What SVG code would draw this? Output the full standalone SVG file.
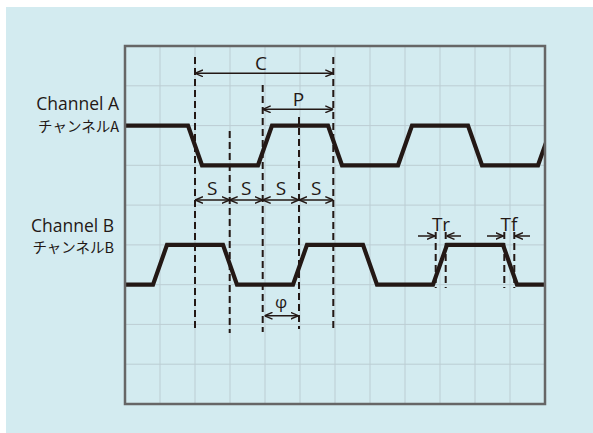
<svg xmlns="http://www.w3.org/2000/svg" width="593" height="433" viewBox="0 0 593 433">
<defs>
<style>
.grid{stroke:#bccdd3;stroke-width:1;fill:none}
.frame{stroke:#666666;stroke-width:2.5;fill:none}
.wave{stroke:#231815;stroke-width:4.2;fill:none;stroke-linejoin:miter}
.dash{stroke:#231815;stroke-width:2;stroke-dasharray:7 4;fill:none}
.dim{stroke:#231815;stroke-width:1.5;fill:none}
.lbl{font-family:"Open Sans","Noto Sans",sans-serif;fill:#231815;text-anchor:middle}
.ch{font-family:"Open Sans","Noto Sans",sans-serif;fill:#231815;text-anchor:end;font-size:17.5px}
.jp{font-family:"Noto Sans CJK JP",sans-serif;fill:#231815;text-anchor:end;font-size:14.5px}
</style>
<marker id="ah" viewBox="0 0 10 10" refX="10" refY="5" markerWidth="8" markerHeight="8" markerUnits="userSpaceOnUse" orient="auto-start-reverse">
<path d="M0,0.8 L10,5 L0,9.2" fill="none" stroke="#231815" stroke-width="1.8"/>
</marker>
<clipPath id="plot"><rect x="125" y="46" width="420" height="358"/></clipPath>
</defs>
<rect x="6" y="7" width="587" height="426" fill="#d3ebf0"/>
<g id="grid" class="grid">
<path d="M160,46V404M195,46V404M230,46V404M265,46V404M300,46V404M335,46V404M370,46V404M405,46V404M440,46V404M475,46V404M510,46V404"/>
<path d="M125,85.8H545M125,125.6H545M125,165.3H545M125,205.1H545M125,244.9H545M125,284.7H545M125,324.4H545M125,364.2H545"/>
</g>
<g id="guides" class="dash">
<path d="M195,57V331M229.7,131V333M262.7,85V332M299,117V329M333.3,57V332"/>
<path d="M435.7,232V288M445.7,232V288M504.3,232V288M514.3,232V288"/>
</g>
<g id="channel-a" clip-path="url(#plot)">
<polyline class="wave" points="120,125.6 188,125.6 202,165.3 258,165.3 272,125.6 328,125.6 342,165.3 398,165.3 412,125.6 468,125.6 482,165.3 538,165.3 552,125.6"/>
</g>
<g id="channel-b" clip-path="url(#plot)">
<polyline class="wave" points="120,284.7 153,284.7 167,244.9 223,244.9 237,284.7 293,284.7 307,244.9 363,244.9 377,284.7 433,284.7 447,244.9 503,244.9 517,284.7 550,284.7"/>
</g>
<rect class="frame" x="125" y="46" width="420" height="358"/>
<g id="connectors" class="dim">
<line x1="195" y1="73.3" x2="333.3" y2="73.3" marker-start="url(#ah)" marker-end="url(#ah)"/>
<line x1="262.7" y1="109.3" x2="333.3" y2="109.3" marker-start="url(#ah)" marker-end="url(#ah)"/>
<line x1="195" y1="200" x2="229.7" y2="200" marker-start="url(#ah)" marker-end="url(#ah)"/>
<line x1="229.7" y1="200" x2="262.7" y2="200" marker-start="url(#ah)" marker-end="url(#ah)"/>
<line x1="262.7" y1="200" x2="299" y2="200" marker-start="url(#ah)" marker-end="url(#ah)"/>
<line x1="299" y1="200" x2="333.3" y2="200" marker-start="url(#ah)" marker-end="url(#ah)"/>
<line x1="264.5" y1="315.7" x2="298.5" y2="315.7" marker-start="url(#ah)" marker-end="url(#ah)"/>
<line x1="418" y1="236" x2="435" y2="236" marker-end="url(#ah)"/>
<line x1="461" y1="236" x2="446.5" y2="236" marker-end="url(#ah)"/>
<line x1="487" y1="236" x2="503.5" y2="236" marker-end="url(#ah)"/>
<line x1="530" y1="236" x2="515" y2="236" marker-end="url(#ah)"/>
</g>
<g id="labels">
<text class="lbl" x="261" y="70" font-size="19">C</text>
<text class="lbl" x="298.5" y="105.5" font-size="19">P</text>
<text class="lbl" x="212.3" y="195" font-size="19">S</text>
<text class="lbl" x="246.2" y="195" font-size="19">S</text>
<text class="lbl" x="281" y="195" font-size="19">S</text>
<text class="lbl" x="316.2" y="195" font-size="19">S</text>
<text class="lbl" x="281" y="308" font-size="17">φ</text>
<text class="lbl" x="441" y="230.5" font-size="19">Tr</text>
<text class="lbl" x="509" y="230.5" font-size="19">Tf</text>
</g>
<g id="channel-a-label">
<text class="ch" x="119" y="110">Channel A</text>
<text class="jp" x="119" y="131.5">チャンネルA</text>
</g>
<g id="channel-b-label">
<text class="ch" x="114" y="232">Channel B</text>
<text class="jp" x="114" y="253">チャンネルB</text>
</g>
</svg>
